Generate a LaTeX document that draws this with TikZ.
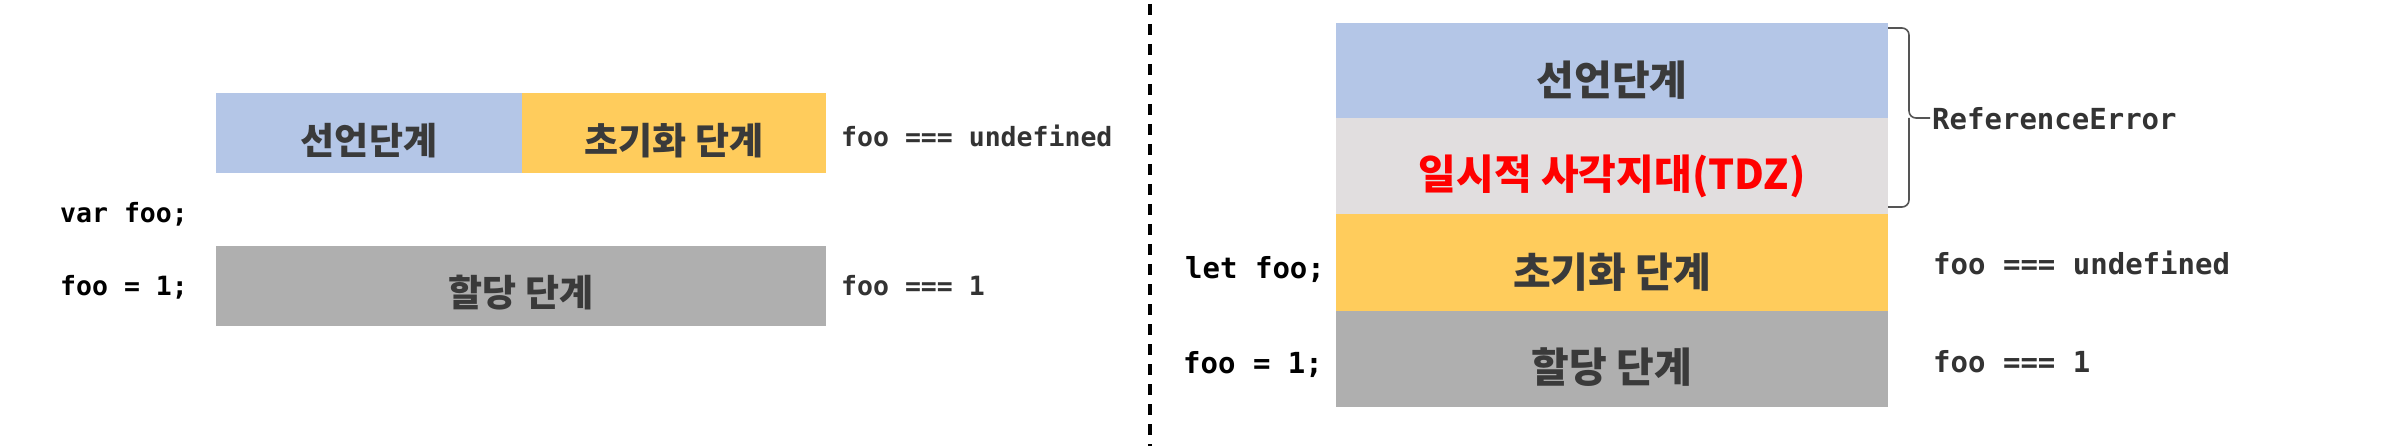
\documentclass[tikz,border=0pt]{standalone}
\usepackage{fontspec}
\newfontfamily\kr{Noto Sans CJK KR}
\newfontfamily\mono{DejaVu Sans Mono}
\definecolor{cBlue}{HTML}{B4C6E7}
\definecolor{cYellow}{HTML}{FFCC5C}
\definecolor{cLight}{HTML}{E1DEDF}
\definecolor{cGray}{HTML}{AFAFAF}
\definecolor{cText}{HTML}{3A3A3A}
\definecolor{cCode}{HTML}{333333}
\definecolor{cRed}{HTML}{FF0000}
\definecolor{cBrace}{HTML}{555555}
\begin{document}
\begin{tikzpicture}[x=1pt,y=-1pt,
  phase/.style={draw=none, inner sep=0, outer sep=0, anchor=north west},
  krL/.style={inner sep=0, font=\kr\bfseries\fontsize{37}{40}\selectfont, text=cText},
  krR/.style={inner sep=0, font=\kr\bfseries\fontsize{41}{44}\selectfont, text=cText},
  codeL/.style={inner sep=0, anchor=base west, font=\mono\bfseries\fontsize{26.5}{30}\selectfont},
  codeR/.style={inner sep=0, anchor=base west, font=\mono\bfseries\fontsize{29}{32}\selectfont},
  divider/.style={line width=3.5, dash pattern=on 11 off 9},
  bracestyle/.style={draw=cBrace, line width=1.6, rounded corners=7}
]
\useasboundingbox (0,0) rectangle (2400,446);

% ---------- left diagram ----------
\node[phase, fill=cBlue, minimum width=306, minimum height=80] (declL) at (216,93) {};
\node[phase, fill=cYellow, minimum width=304, minimum height=80] (initL) at (522,93) {};
\node[phase, fill=cGray, minimum width=610, minimum height=80] (assignL) at (216,246) {};

\node[krL] (declLt) at (369,141) {선언단계};
\node[krL] (initLt) at (674,141) {초기화 단계};
\node[krL] (assignLt) at (521,293) {할당 단계};

\node[codeL, text=black] (varL) at (60,223) {var foo;};
\node[codeL, text=black] (setL) at (60,295) {foo = 1;};
\node[codeL, text=cCode] (undefL) at (841,147) {foo === undefined};
\node[codeL, text=cCode] (oneL) at (841,295) {foo === 1};

% ---------- divider ----------
\coordinate (divTop) at (1150,4);
\coordinate (divBot) at (1150,446);
\draw[divider] (divTop) -- (divBot);

% ---------- right diagram ----------
\node[phase, fill=cBlue, minimum width=552, minimum height=95] (declR) at (1336,23) {};
\node[phase, fill=cLight, minimum width=552, minimum height=96] (tdzR) at (1336,118) {};
\node[phase, fill=cYellow, minimum width=552, minimum height=97] (initR) at (1336,214) {};
\node[phase, fill=cGray, minimum width=552, minimum height=96] (assignR) at (1336,311) {};

\node[krR] (declRt) at (1612,80) {선언단계};
\node[krR, text=cRed] (tdzRt) at (1612,176) {일시적 사각지대(TDZ)};
\node[krR] (initRt) at (1612,272) {초기화 단계};
\node[krR] (assignRt) at (1612,367) {할당 단계};

\node[codeR, text=black] (letR) at (1185,278) {let foo;};
\node[codeR, text=black] (setR) at (1183,373) {foo = 1;};
\node[codeR, text=cCode] (undefR) at (1933,275) {foo === undefined};
\node[codeR, text=cCode] (oneR) at (1933,372) {foo === 1};
\node[codeR, text=cCode] (refErr) at (1932,130) {ReferenceError};

% brace
\coordinate (bTop) at (1888,28);
\coordinate (bTopC) at (1909,28);
\coordinate (bMid) at (1909,118);
\coordinate (bTip) at (1930,118);
\coordinate (bBotC) at (1909,207);
\coordinate (bBot) at (1888,207);
\draw[bracestyle] (bTop) -- (bTopC) -- (bMid) -- (bTip);
\draw[bracestyle] (bBot) -- (bBotC) -- (bMid);
\end{tikzpicture}
\end{document}
